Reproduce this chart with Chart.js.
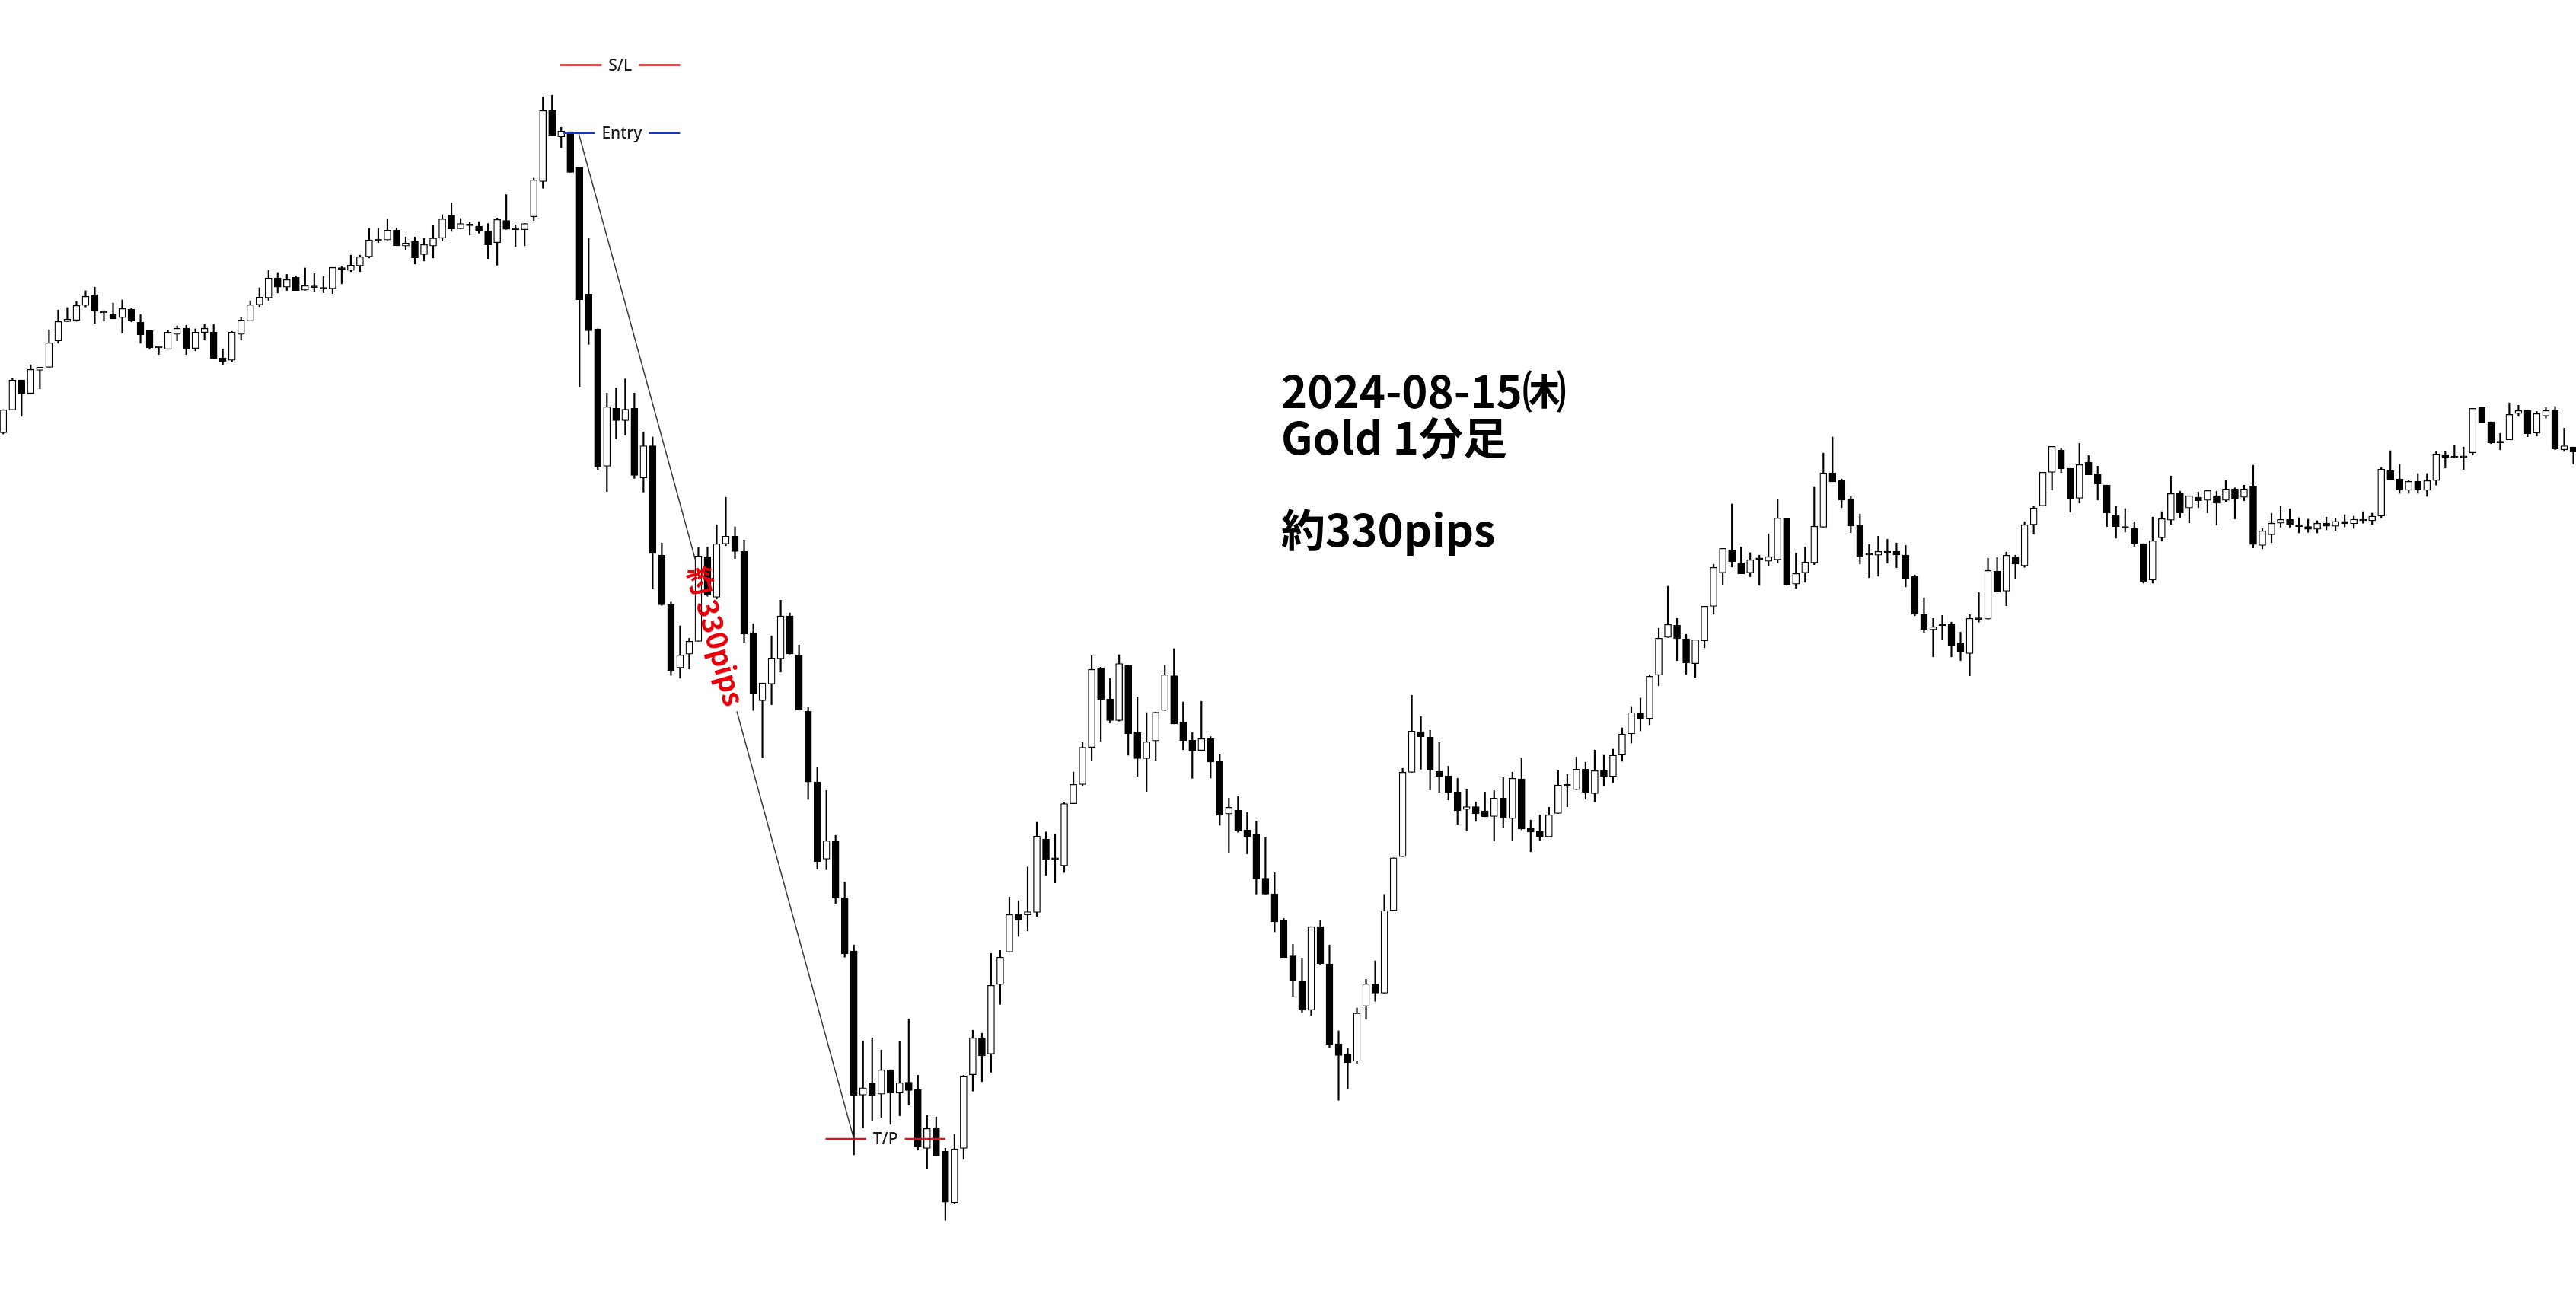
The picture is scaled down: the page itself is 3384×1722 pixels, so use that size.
<!DOCTYPE html>
<html lang="ja">
<head>
<meta charset="utf-8">
<title>Gold 1分足 2024-08-15</title>
<script src="https://cdn.jsdelivr.net/npm/chart.js@4.4.1/dist/chart.umd.min.js"></script>
<style>
  html, body { margin: 0; padding: 0; background: #fff; overflow: hidden; }
  #wrap { width: 3384px; height: 1722px; position: relative; }
</style>
</head>
<body>
<div id="wrap"><canvas id="chart"></canvas></div>
<script>
// ----------------------
// 1-minute candles (XAU/USD)
// ----------------------
const openPrices = [
  2453.19, 2453.94, 2454.92, 2454.48, 2455.24, 2455.34, 2456.21, 2456.84, 2456.88, 2457.37,
  2457.72, 2457.17, 2457.07, 2456.97, 2457.24, 2456.82, 2456.54, 2456.00, 2455.93, 2456.42,
  2456.62, 2455.96, 2456.48, 2456.49, 2455.64, 2455.57, 2456.42, 2456.86, 2457.39, 2457.62,
  2458.27, 2457.97, 2458.29, 2457.87, 2458.00, 2457.92, 2457.92, 2458.60, 2458.52, 2458.67,
  2458.97, 2459.52, 2459.52, 2459.84, 2459.32, 2459.47, 2459.04, 2459.32, 2459.58, 2460.34,
  2459.89, 2460.04, 2459.97, 2459.82, 2459.43, 2460.16, 2459.91, 2459.86, 2460.28, 2461.44,
  2463.77, 2462.91, 2463.07, 2461.91, 2457.74, 2456.60, 2452.09, 2453.99, 2453.59, 2453.99,
  2451.71, 2452.76, 2449.17, 2447.54, 2445.47, 2445.92, 2446.34, 2449.12, 2447.79, 2449.54,
  2449.79, 2449.29, 2446.62, 2444.39, 2444.94, 2445.77, 2447.17, 2445.89, 2444.05, 2441.72,
  2439.19, 2439.79, 2437.92, 2436.17, 2431.44, 2431.84, 2431.47, 2432.27, 2431.51, 2431.86,
  2431.62, 2429.69, 2430.37, 2429.59, 2427.90, 2429.69, 2432.11, 2433.32, 2432.79, 2435.07,
  2436.14, 2437.38, 2437.36, 2437.44, 2439.84, 2439.19, 2438.97, 2441.01, 2441.64, 2442.86,
  2445.47, 2444.45, 2443.74, 2445.55, 2443.34, 2442.49, 2443.07, 2444.07, 2445.21, 2443.69,
  2443.09, 2442.76, 2443.14, 2442.39, 2440.67, 2440.79, 2440.14, 2439.99, 2438.56, 2438.04,
  2437.19, 2436.01, 2435.19, 2434.23, 2436.97, 2435.75, 2433.12, 2432.80, 2432.55, 2434.36,
  2435.09, 2434.79, 2437.50, 2439.27, 2442.04, 2443.37, 2443.19, 2442.07, 2441.92, 2441.39,
  2440.82, 2440.91, 2440.77, 2440.59, 2441.19, 2440.52, 2441.82, 2440.19, 2440.09, 2439.92,
  2440.69, 2441.65, 2441.47, 2442.14, 2441.34, 2442.09, 2441.90, 2442.60, 2443.30, 2444.00,
  2443.80, 2445.23, 2446.47, 2446.87, 2446.42, 2445.61, 2446.36, 2447.49, 2448.59, 2449.34,
  2448.92, 2448.59, 2449.04, 2448.97, 2449.02, 2450.39, 2448.22, 2448.59, 2448.92, 2450.09,
  2451.87, 2451.62, 2451.02, 2450.14, 2449.19, 2449.17, 2449.30, 2449.30, 2449.17, 2448.47,
  2447.22, 2446.72, 2446.87, 2446.89, 2446.29, 2445.94, 2447.07, 2447.07, 2448.64, 2447.99,
  2449.12, 2448.82, 2450.17, 2450.79, 2451.89, 2452.62, 2452.02, 2451.04, 2452.22, 2451.84,
  2451.47, 2450.47, 2450.07, 2450.07, 2449.55, 2448.35, 2449.74, 2450.32, 2451.19, 2450.72,
  2451.07, 2450.97, 2451.12, 2450.97, 2451.34, 2451.07, 2451.44, 2449.49, 2449.84, 2450.22,
  2450.34, 2450.17, 2450.11, 2450.02, 2450.22, 2450.12, 2450.28, 2450.20, 2450.35, 2450.30,
  2450.45, 2451.94, 2451.67, 2451.30, 2451.59, 2451.30, 2451.62, 2452.47, 2452.40, 2452.39,
  2452.53, 2454.02, 2453.55, 2452.87, 2452.96, 2453.82, 2453.92, 2453.18, 2453.74, 2453.94,
  2452.63, 2452.72
];

const highPrices = [
  2453.95, 2454.98, 2454.92, 2455.42, 2455.34, 2456.57, 2457.22, 2457.30, 2457.50, 2457.85,
  2457.97, 2457.20, 2457.45, 2457.55, 2457.27, 2457.07, 2456.54, 2456.00, 2456.55, 2456.70,
  2456.72, 2456.60, 2456.75, 2456.75, 2455.94, 2456.52, 2456.97, 2457.52, 2457.95, 2458.52,
  2458.45, 2458.39, 2458.34, 2458.60, 2458.42, 2458.32, 2458.62, 2458.64, 2459.02, 2459.02,
  2459.90, 2459.90, 2460.20, 2459.92, 2459.62, 2459.62, 2459.57, 2459.99, 2460.35, 2460.74,
  2460.23, 2460.11, 2460.12, 2460.06, 2460.24, 2461.01, 2460.02, 2460.06, 2461.55, 2464.22,
  2464.27, 2463.22, 2463.07, 2461.91, 2459.58, 2456.60, 2454.49, 2454.66, 2454.96, 2454.49,
  2453.22, 2453.05, 2449.57, 2447.63, 2446.85, 2446.44, 2449.42, 2449.44, 2450.17, 2451.07,
  2450.10, 2449.67, 2446.92, 2444.97, 2446.52, 2447.69, 2447.27, 2446.22, 2444.17, 2442.19,
  2441.44, 2439.97, 2438.44, 2436.37, 2433.22, 2433.32, 2432.92, 2432.27, 2433.19, 2433.94,
  2432.09, 2430.77, 2430.72, 2429.69, 2430.15, 2432.09, 2433.57, 2433.47, 2436.09, 2436.19,
  2437.94, 2437.82, 2438.93, 2440.40, 2440.08, 2440.00, 2441.04, 2442.05, 2443.02, 2445.87,
  2445.49, 2445.12, 2445.90, 2445.55, 2444.51, 2444.00, 2444.01, 2445.55, 2446.10, 2444.35,
  2443.34, 2444.37, 2443.21, 2442.62, 2441.19, 2441.24, 2440.72, 2440.44, 2439.89, 2438.74,
  2437.24, 2436.39, 2435.94, 2436.97, 2437.18, 2436.37, 2433.55, 2432.98, 2434.30, 2435.24,
  2435.85, 2438.03, 2439.23, 2442.17, 2444.57, 2443.87, 2443.42, 2443.02, 2442.24, 2441.84,
  2441.47, 2441.07, 2441.39, 2441.44, 2441.87, 2442.04, 2442.49, 2440.47, 2440.64, 2440.89,
  2442.09, 2441.97, 2442.54, 2442.37, 2442.77, 2442.60, 2442.80, 2443.50, 2444.20, 2444.48,
  2445.24, 2446.77, 2448.15, 2447.09, 2446.57, 2446.39, 2447.49, 2448.87, 2449.39, 2450.85,
  2449.44, 2449.25, 2449.17, 2449.87, 2450.99, 2450.39, 2449.24, 2449.44, 2451.40, 2452.52,
  2453.05, 2451.67, 2451.10, 2450.52, 2449.52, 2449.79, 2449.69, 2449.57, 2449.49, 2448.52,
  2447.77, 2447.09, 2447.19, 2446.97, 2446.64, 2447.22, 2447.94, 2449.07, 2449.09, 2449.27,
  2449.17, 2450.27, 2450.77, 2451.89, 2452.74, 2452.69, 2452.02, 2452.84, 2452.44, 2452.09,
  2451.47, 2450.77, 2450.70, 2450.27, 2449.55, 2450.42, 2450.60, 2451.77, 2451.27, 2451.12,
  2451.24, 2451.29, 2451.27, 2451.62, 2451.38, 2451.47, 2452.12, 2450.04, 2450.54, 2450.77,
  2450.69, 2450.40, 2450.35, 2450.30, 2450.42, 2450.38, 2450.50, 2450.45, 2450.60, 2450.55,
  2452.05, 2452.60, 2452.15, 2451.62, 2451.85, 2451.85, 2452.59, 2452.57, 2452.79, 2452.72,
  2453.99, 2454.02, 2453.55, 2453.17, 2454.17, 2454.09, 2453.92, 2453.89, 2454.02, 2454.05,
  2453.34, 2452.72
];

const lowPrices = [
  2453.15, 2453.94, 2453.73, 2454.48, 2454.63, 2455.34, 2456.13, 2456.84, 2456.85, 2457.32,
  2456.78, 2456.86, 2456.93, 2456.46, 2456.83, 2456.13, 2455.93, 2455.76, 2455.93, 2456.21,
  2455.76, 2455.88, 2456.23, 2455.63, 2455.42, 2455.51, 2456.23, 2456.86, 2457.33, 2457.53,
  2457.78, 2457.86, 2457.86, 2457.87, 2457.83, 2457.79, 2457.76, 2458.08, 2458.48, 2458.48,
  2458.93, 2459.43, 2459.52, 2459.33, 2459.21, 2458.73, 2458.83, 2458.93, 2459.49, 2459.80,
  2459.89, 2459.68, 2459.74, 2458.91, 2458.69, 2459.87, 2459.30, 2459.33, 2460.16, 2461.22,
  2462.96, 2462.55, 2461.74, 2454.71, 2456.09, 2451.98, 2451.26, 2452.98, 2453.11, 2451.69,
  2451.24, 2448.08, 2447.52, 2445.22, 2445.13, 2445.43, 2446.34, 2447.82, 2447.73, 2449.48,
  2449.06, 2446.31, 2444.07, 2442.51, 2444.26, 2445.33, 2445.92, 2444.08, 2441.15, 2438.86,
  2438.84, 2437.73, 2435.97, 2429.48, 2430.36, 2430.61, 2430.71, 2430.48, 2430.76, 2431.11,
  2429.63, 2429.01, 2429.44, 2427.32, 2427.86, 2429.33, 2431.57, 2431.88, 2432.19, 2434.42,
  2436.14, 2436.65, 2436.83, 2437.31, 2438.66, 2438.41, 2438.75, 2441.01, 2441.60, 2442.41,
  2443.06, 2443.66, 2443.72, 2442.60, 2441.91, 2441.41, 2442.43, 2444.07, 2443.63, 2442.78,
  2441.84, 2442.76, 2441.85, 2440.30, 2439.41, 2440.07, 2439.36, 2438.04, 2438.04, 2436.80,
  2435.96, 2434.68, 2434.15, 2434.06, 2435.73, 2433.01, 2431.27, 2431.65, 2432.48, 2433.93,
  2434.52, 2434.79, 2437.50, 2439.27, 2442.04, 2442.14, 2441.46, 2441.38, 2441.13, 2440.33,
  2440.11, 2440.43, 2440.58, 2439.78, 2440.23, 2439.81, 2440.15, 2439.43, 2439.81, 2439.92,
  2440.69, 2440.91, 2441.47, 2441.16, 2441.07, 2441.60, 2441.70, 2442.40, 2443.00, 2443.40,
  2443.60, 2444.88, 2446.47, 2445.71, 2445.26, 2445.16, 2446.13, 2447.23, 2448.21, 2448.78,
  2448.56, 2448.46, 2448.18, 2448.81, 2448.91, 2448.18, 2448.08, 2448.28, 2448.86, 2450.09,
  2451.58, 2450.73, 2449.91, 2448.88, 2448.43, 2448.48, 2448.91, 2448.76, 2448.13, 2447.18,
  2446.63, 2445.83, 2446.41, 2445.83, 2445.71, 2445.21, 2446.97, 2447.07, 2447.96, 2447.51,
  2448.41, 2448.77, 2449.86, 2450.79, 2451.31, 2451.88, 2450.58, 2450.88, 2451.81, 2450.98,
  2450.11, 2449.73, 2449.93, 2449.46, 2448.25, 2448.25, 2449.63, 2450.18, 2450.41, 2450.23,
  2450.73, 2450.56, 2450.16, 2450.93, 2450.36, 2450.96, 2449.41, 2449.38, 2449.58, 2450.09,
  2450.09, 2449.90, 2449.92, 2449.90, 2450.00, 2449.98, 2450.10, 2450.05, 2450.22, 2450.18,
  2450.40, 2451.66, 2451.20, 2451.20, 2451.20, 2451.10, 2451.47, 2452.03, 2452.37, 2451.98,
  2452.48, 2453.51, 2452.83, 2452.63, 2452.96, 2453.73, 2453.06, 2453.08, 2453.67, 2452.63,
  2452.58, 2452.16
];

const closePrices = [
  2453.94, 2454.92, 2454.48, 2455.27, 2455.34, 2456.14, 2456.84, 2456.92, 2457.37, 2457.67,
  2457.18, 2457.13, 2456.93, 2457.27, 2456.86, 2456.41, 2455.98, 2455.98, 2456.49, 2456.62,
  2455.96, 2456.49, 2456.62, 2455.63, 2455.53, 2456.49, 2456.89, 2457.39, 2457.64, 2458.27,
  2457.97, 2458.22, 2457.86, 2458.02, 2457.96, 2457.91, 2458.62, 2458.56, 2458.69, 2458.97,
  2459.52, 2459.50, 2459.84, 2459.33, 2459.42, 2458.93, 2459.37, 2459.58, 2460.21, 2459.88,
  2460.06, 2459.99, 2459.80, 2459.36, 2460.19, 2459.87, 2459.86, 2460.06, 2461.49, 2463.77,
  2462.96, 2463.09, 2461.74, 2457.55, 2456.54, 2452.05, 2454.04, 2453.59, 2453.96, 2451.79,
  2452.76, 2449.23, 2447.54, 2445.38, 2445.89, 2446.34, 2449.14, 2447.86, 2449.54, 2449.79,
  2449.29, 2446.58, 2444.61, 2444.97, 2445.79, 2447.17, 2445.93, 2444.08, 2441.72, 2439.11,
  2439.79, 2437.90, 2436.08, 2431.43, 2431.68, 2431.43, 2432.27, 2431.51, 2431.84, 2431.59,
  2429.76, 2430.34, 2429.44, 2427.92, 2429.67, 2432.07, 2433.32, 2432.73, 2435.04, 2435.97,
  2437.37, 2437.19, 2437.46, 2439.95, 2439.18, 2439.18, 2441.01, 2441.64, 2442.86, 2445.42,
  2444.43, 2443.74, 2445.61, 2443.31, 2442.49, 2443.04, 2444.01, 2445.24, 2443.63, 2443.08,
  2442.74, 2443.14, 2442.38, 2440.63, 2440.89, 2440.10, 2439.93, 2438.54, 2438.04, 2437.13,
  2435.96, 2435.21, 2434.23, 2436.97, 2435.76, 2433.10, 2432.74, 2432.51, 2434.13, 2435.09,
  2434.79, 2437.50, 2439.23, 2442.04, 2443.39, 2443.21, 2442.11, 2441.91, 2441.38, 2440.78,
  2440.91, 2440.68, 2440.58, 2441.19, 2440.53, 2441.84, 2440.18, 2440.08, 2439.92, 2440.64,
  2441.62, 2441.58, 2442.14, 2441.38, 2442.09, 2441.90, 2442.60, 2443.30, 2444.00, 2443.80,
  2445.19, 2446.44, 2446.89, 2446.43, 2445.63, 2446.39, 2447.49, 2448.77, 2449.39, 2448.96,
  2448.56, 2449.02, 2449.03, 2449.12, 2450.39, 2448.21, 2448.57, 2448.94, 2450.12, 2451.87,
  2451.58, 2450.98, 2450.13, 2449.13, 2449.18, 2449.29, 2449.23, 2449.18, 2448.41, 2447.23,
  2446.73, 2446.82, 2446.86, 2446.21, 2446.01, 2447.09, 2447.06, 2448.67, 2447.96, 2449.17,
  2448.88, 2450.17, 2450.72, 2451.89, 2452.74, 2452.01, 2451.01, 2452.14, 2451.81, 2451.51,
  2450.56, 2450.11, 2450.06, 2449.53, 2448.30, 2449.64, 2450.37, 2451.19, 2450.56, 2451.12,
  2450.96, 2451.29, 2450.88, 2451.34, 2451.03, 2451.34, 2449.52, 2449.97, 2450.22, 2450.34,
  2450.16, 2450.11, 2450.02, 2450.22, 2450.12, 2450.28, 2450.20, 2450.35, 2450.30, 2450.45,
  2451.99, 2451.66, 2451.30, 2451.59, 2451.30, 2451.62, 2452.49, 2452.38, 2452.37, 2452.38,
  2453.99, 2453.51, 2452.86, 2452.86, 2453.79, 2453.92, 2453.16, 2453.82, 2453.92, 2452.66,
  2452.76, 2452.56
];

// trade levels
const entryPrice = 2463.03;
const slPrice = 2465.26;
const tpPrice = 2430.00;

const levelLabels = ["S/L", "Entry", "T/P"];
const levelPrices = [slPrice, entryPrice, tpPrice];

// title texts
const titleLines = ["2024-08-15㈭", "Gold 1分足", "", "約330pips"];
const moveLabel = "約 330pips";

// ----------------------
// Drawing setup
// ----------------------
const candleIndex = openPrices.map((_, i) => i);

const levelStyle = [
  { from: 60.9, to: 74.0, color: "#d8141c" },
  { from: 61.25, to: 74.0, color: "#1238c4" },
  { from: 89.9, to: 103.0, color: "#d8141c" }
];

// entry -> take profit path (candle index positions)
const moveFrom = { x: 62.9, y: entryPrice };
const moveTo = { x: 93.0, y: tpPrice };

const tradeMarks = {
  id: "tradeMarks",
  afterDatasetsDraw(chart) {
    const { ctx, scales: { x, y } } = chart;
    ctx.save();

    // S/L, Entry, T/P lines with a label in the middle
    ctx.font = '500 21px "Noto Sans", sans-serif';
    ctx.textAlign = "center";
    ctx.textBaseline = "middle";
    levelLabels.forEach((label, k) => {
      const st = levelStyle[k];
      const x0 = x.getPixelForValue(st.from);
      const x1 = x.getPixelForValue(st.to);
      const py = y.getPixelForValue(levelPrices[k]);
      const cx = (x0 + x1) / 2;
      const half = ctx.measureText(label).width / 2 + 9;
      ctx.strokeStyle = st.color;
      ctx.lineWidth = 2.5;
      ctx.beginPath();
      ctx.moveTo(x0, py);
      ctx.lineTo(cx - half, py);
      ctx.moveTo(cx + half, py);
      ctx.lineTo(x1, py);
      ctx.stroke();
      ctx.fillStyle = "#1b1b1b";
      ctx.fillText(label, cx, py + 1);
    });

    // thin path entry -> T/P, broken where the red label sits
    const p0 = { x: x.getPixelForValue(moveFrom.x), y: y.getPixelForValue(moveFrom.y) };
    const p1 = { x: x.getPixelForValue(moveTo.x), y: y.getPixelForValue(moveTo.y) };
    const at = t => ({ x: p0.x + (p1.x - p0.x) * t, y: p0.y + (p1.y - p0.y) * t });
    const g0 = at(0.425), g1 = at(0.575), mid = at(0.5);
    ctx.strokeStyle = "#3a3a3a";
    ctx.lineWidth = 1.5;
    ctx.beginPath();
    ctx.moveTo(p0.x, p0.y);
    ctx.lineTo(g0.x, g0.y);
    ctx.moveTo(g1.x, g1.y);
    ctx.lineTo(p1.x, p1.y);
    ctx.stroke();

    ctx.translate(mid.x, mid.y);
    ctx.rotate(Math.atan2(p1.y - p0.y, p1.x - p0.x));
    ctx.fillStyle = "#e8000b";
    ctx.font = 'bold 37px "Noto Sans CJK JP", sans-serif';
    ctx.fillText(moveLabel, 0, 0);
    ctx.setTransform(1, 0, 0, 1, 0, 0);

    // title block
    ctx.fillStyle = "#000";
    ctx.textAlign = "left";
    ctx.font = 'bold 58px "Noto Sans CJK JP", sans-serif';
    titleLines.forEach((line, k) => {
      if (line) ctx.fillText(line, 1683, 514 + k * 60.5);
    });

    ctx.restore();
  }
};

new Chart(document.getElementById("chart"), {
  type: "bar",
  data: {
    datasets: [
      {
        label: "body",
        data: candleIndex.map(i => ({ x: i, y: [openPrices[i], closePrices[i]] })),
        backgroundColor: candleIndex.map(i => closePrices[i] >= openPrices[i] ? "#ffffff" : "#000000"),
        borderColor: "#000000",
        borderWidth: 1.3,
        borderSkipped: false,
        barThickness: 9,
        minBarLength: 2,
        grouped: false,
        order: 1
      },
      {
        label: "wick",
        data: candleIndex.map(i => ({ x: i, y: [lowPrices[i], highPrices[i]] })),
        backgroundColor: "#000000",
        borderWidth: 0,
        barThickness: 1.5,
        grouped: false,
        order: 2
      }
    ]
  },
  options: {
    responsive: true,
    maintainAspectRatio: false,
    animation: false,
    layout: { padding: 0 },
    plugins: {
      legend: { display: false },
      tooltip: { enabled: false }
    },
    scales: {
      x: { type: "linear", min: -0.36, max: 281.29, offset: false, display: false },
      y: { type: "linear", min: 2424.35, max: 2467.40, display: false }
    }
  },
  plugins: [tradeMarks]
});
</script>
</body>
</html>
